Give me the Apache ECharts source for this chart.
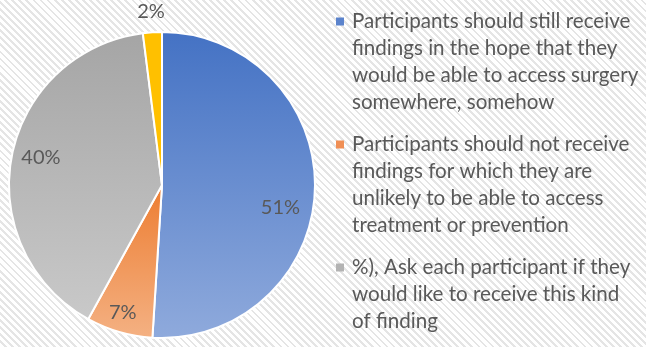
<!DOCTYPE html>
<html>
<head>
<meta charset="utf-8">
<script src="https://cdn.jsdelivr.net/npm/echarts@6/dist/echarts.min.js"></script>
<style>
  html, body { margin: 0; padding: 0; }
  #chart {
    width: 646px;
    height: 347px;
    background: repeating-linear-gradient(45deg, #ffffff 0px, #ffffff 3px, #e5e5e5 3px, #e5e5e5 5px);
  }
</style>
</head>
<body>
<div id="chart"></div>
<script>
const categories = [
  'Participants should still receive\nfindings in the hope that they\nwould be able to access surgery\nsomewhere, somehow',
  'Participants should not receive\nfindings for which they are\nunlikely to be able to access\ntreatment or prevention',
  '%), Ask each participant if they\nwould like to receive this kind\nof finding',
  'Other'
]
const values = [51, 7, 40, 2]

// slice colours: top -> bottom of the gradient
const colorsTop = ['#4472c4', '#ed7d31', '#a5a5a5', '#ffc000']
const colorsBottom = ['#8faadc', '#f4b183', '#c9c9c9', '#ffc000']
const markerColors = ['#5b83cc', '#f08f55', '#b3b3b3', '#ffc000']

// label nudges from the default inside position (Excel "best fit")
const labelShift = [[39, 20], [-17, 51], [-43, -13], [-6, -94]]

const chart = echarts.init(document.getElementById('chart'))

const rich = { t: { fontSize: 20.6, lineHeight: 27, color: '#595959', fontFamily: 'Lato' }, s: { width: 16 } }
markerColors.forEach((c, i) => {
  rich['m' + i] = { width: 8, height: 8, backgroundColor: c, padding: 0 }
  rich['g' + i] = { width: 8 }
})

function legendText(name) {
  const i = categories.indexOf(name)
  const lines = name.split('\n')
  return lines.map((l, k) => (k === 0 ? `{m${i}|}{g${i}|}` : '{s|}') + `{t|${l}}`).join('\n')
}

const option = {
  animation: false,
  legend: {
    orient: 'vertical',
    left: 336,
    top: 8,
    icon: 'none',
    itemWidth: 0,
    itemHeight: 8,
    itemGap: 15,
    padding: 0,
    data: categories.slice(0, 3),
    formatter: legendText,
    textStyle: { rich, fontSize: 20.6, lineHeight: 27, color: '#595959', padding: [0, 0, 0, -5] },
    selectedMode: false
  },
  series: [
    {
      type: 'pie',
      center: [162, 185],
      radius: [0, 153],
      startAngle: 90,
      clockwise: true,
      itemStyle: { borderColor: '#ffffff', borderWidth: 2 },
      label: {
        position: 'inside',
        formatter: '{c}%',
        fontSize: 20,
        fontFamily: 'Lato',
        color: '#595959'
      },
      labelLayout: (params) => ({ dx: labelShift[params.dataIndex][0], dy: labelShift[params.dataIndex][1] }),
      data: values.map((v, i) => ({
        name: categories[i],
        value: v,
        itemStyle: {
          color: new echarts.graphic.LinearGradient(0, 0, 0, 1, [
            { offset: 0, color: colorsTop[i] },
            { offset: 1, color: colorsBottom[i] }
          ])
        }
      }))
    }
  ]
}

chart.setOption(option)
</script>
</body>
</html>
